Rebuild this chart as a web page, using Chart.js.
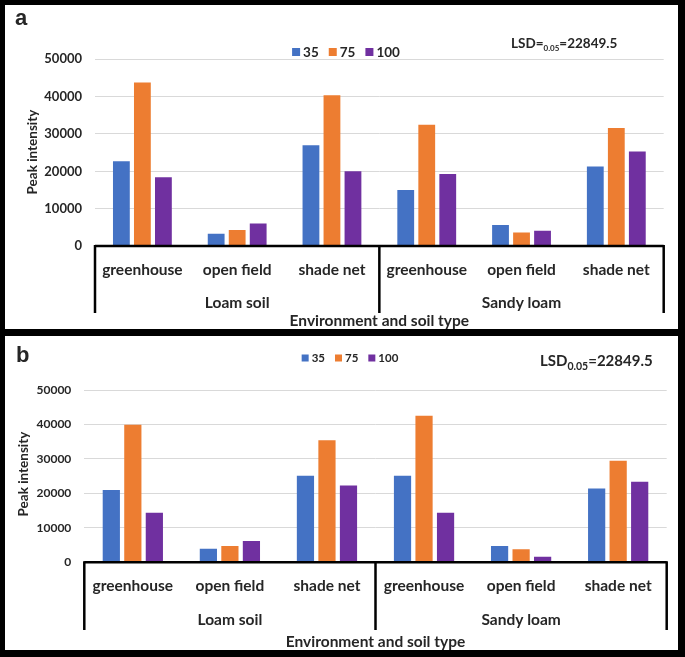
<!DOCTYPE html>
<html>
<head>
<meta charset="utf-8">
<script src="https://cdn.jsdelivr.net/npm/chart.js@4.4.0/dist/chart.umd.min.js"></script>
<style>
  html, body { margin: 0; padding: 0; background: #fff; }
  .panel { position: absolute; left: 0; width: 685px; background: #fff; border: solid #000; box-sizing: border-box; }
  #panelA { top: 0; height: 336px; border-width: 5px 7px 7px 5px; }
  #panelB { top: 336px; height: 321px; border-width: 0 7px 7px 5px; }
  canvas { display: block; }
</style>
</head>
<body>
<div class="panel" id="panelA"><canvas id="chartA" width="673" height="324"></canvas></div>
<div class="panel" id="panelB"><canvas id="chartB" width="673" height="314"></canvas></div>
<script>
// categories
const envLabels = ['greenhouse', 'open field', 'shade net', 'greenhouse', 'open field', 'shade net'];
const soilGroups = ['Loam soil', 'Sandy loam'];
const groupSizes = [3, 3];
const seriesNames = ['35', '75', '100'];
const seriesColors = ['#4472C4', '#ED7D31', '#7030A0'];

// panel a values
const a35  = [22700, 3300, 27000, 15000, 5600, 21300];
const a75  = [43800, 4300, 40400, 32500, 3600, 31600];
const a100 = [18400, 6000, 20000, 19300, 4100, 25300];

// panel b values
const b35  = [21000, 3900, 25100, 25100, 4700, 21400];
const b75  = [39900, 4700, 35400, 42500, 3800, 29500];
const b100 = [14400, 6200, 22300, 14400, 1600, 23400];

const yMax = 50000;
const yStep = 10000;
const lsdValue = '22849.5';

const FONT = 'Lato, "Open Sans", sans-serif';
const TXT = '#262626';

// draws the Excel style multi-level axis, legend, titles and labels
const panelDecor = {
    id: 'panelDecor',
    afterDraw(chart, args, o) {
        const ctx = chart.ctx;
        const area = chart.chartArea;
        const xs = chart.scales.x;
        const yb = area.bottom;
        const catW = area.width / envLabels.length;
        ctx.save();

        // axis line + brackets
        ctx.strokeStyle = '#000';
        ctx.lineWidth = 2.5;
        ctx.beginPath();
        ctx.moveTo(area.left, yb);
        ctx.lineTo(area.right, yb);
        let idx = 0;
        const edges = [xs.getPixelForValue(0) - catW / 2];
        groupSizes.forEach(n => {
            idx += n;
            edges.push(xs.getPixelForValue(idx - 1) + catW / 2);
        });
        edges.forEach(px => {
            ctx.moveTo(px, yb - 1);
            ctx.lineTo(px, yb + o.bracket);
        });
        ctx.stroke();

        ctx.fillStyle = TXT;
        ctx.textAlign = 'center';
        ctx.textBaseline = 'middle';
        ctx.font = 'bold 15.5px ' + FONT;
        envLabels.forEach((lab, i) => {
            ctx.fillText(lab, xs.getPixelForValue(i), yb + o.catY);
        });
        soilGroups.forEach((g, i) => {
            ctx.fillText(g, (edges[i] + edges[i + 1]) / 2, yb + o.groupY);
        });
        ctx.fillText('Environment and soil type', (area.left + area.right) / 2, yb + o.titleY);

        // y title
        ctx.save();
        ctx.translate(o.yTitleX, o.yTitleY);
        ctx.rotate(-Math.PI / 2);
        ctx.font = 'bold 13.5px ' + FONT;
        ctx.fillText('Peak intensity', 0, 0);
        ctx.restore();

        // legend
        ctx.font = 'bold ' + o.legendFont + 'px ' + FONT;
        const parts = chart.data.datasets.map(d => ctx.measureText(d.label).width);
        const gapBox = 3, gapItem = 10;
        let total = 0;
        parts.forEach((w, i) => { total += o.legendBox + gapBox + w + (i < parts.length - 1 ? gapItem : 0); });
        let lx = o.legendX - total / 2;
        ctx.textAlign = 'left';
        chart.data.datasets.forEach((d, i) => {
            ctx.fillStyle = d.backgroundColor;
            ctx.fillRect(lx, o.legendY - o.legendBox / 2, o.legendBox, o.legendBox);
            lx += o.legendBox + gapBox;
            ctx.fillStyle = TXT;
            ctx.fillText(d.label, lx, o.legendY + 0.5);
            lx += parts[i] + gapItem;
        });

        // LSD note with subscript
        ctx.textBaseline = 'alphabetic';
        let sx = o.lsdX;
        ctx.font = 'bold ' + o.lsdFont + 'px ' + FONT;
        ctx.fillText(o.lsdPre, sx, o.lsdY);
        sx += ctx.measureText(o.lsdPre).width;
        ctx.font = 'bold ' + o.subFont + 'px ' + FONT;
        ctx.fillText('0.05', sx, o.lsdY + o.subDrop);
        sx += ctx.measureText('0.05').width;
        ctx.font = 'bold ' + o.lsdFont + 'px ' + FONT;
        ctx.fillText('=' + lsdValue, sx, o.lsdY);

        // panel letter
        ctx.font = 'bold 22px "Liberation Sans", Arial, sans-serif';
        ctx.textBaseline = 'middle';
        ctx.fillText(o.letter, o.letterX, o.letterY);

        ctx.restore();
    }
};

function makeChart(id, v35, v75, v100, geo, deco) {
    const values = [v35, v75, v100];
    return new Chart(document.getElementById(id).getContext('2d'), {
        type: 'bar',
        data: {
            labels: envLabels,
            datasets: seriesNames.map((name, i) => ({
                label: name,
                data: values[i],
                backgroundColor: seriesColors[i],
                categoryPercentage: 0.665,
                barPercentage: 0.8
            }))
        },
        options: {
            responsive: false,
            animation: false,
            layout: { padding: { left: 0, right: geo.right, top: geo.top, bottom: 0 } },
            scales: {
                x: {
                    ticks: { display: false },
                    grid: { display: false },
                    border: { display: false },
                    afterFit: s => { s.height = geo.xHeight; }
                },
                y: {
                    min: 0,
                    max: yMax,
                    ticks: {
                        stepSize: yStep,
                        padding: 13,
                        color: TXT,
                        font: { family: FONT, size: geo.tickFont, weight: 'bold' },
                        callback: v => String(v)
                    },
                    grid: { color: '#d9d9d9', lineWidth: 1, drawTicks: false },
                    border: { display: false },
                    afterFit: s => { s.width = geo.yWidth; }
                }
            },
            plugins: {
                legend: { display: false },
                tooltip: { enabled: false },
                panelDecor: deco
            }
        },
        plugins: [panelDecor]
    });
}

window.onload = function () {
    makeChart('chartA', a35, a75, a100,
        { right: 14.3, top: 54.3, xHeight: 83, yWidth: 90, tickFont: 13 },
        {
            bracket: 67, catY: 24, groupY: 57, titleY: 75,
            yTitleX: 28, yTitleY: 147,
            legendX: 341, legendY: 47, legendFont: 13.5, legendBox: 8,
            lsdX: 506, lsdY: 42.5, lsdFont: 13.5, subFont: 8, subDrop: 3, lsdPre: 'LSD=',
            letter: 'a', letterX: 10, letterY: 14
        });

    makeChart('chartB', b35, b75, b100,
        { right: 11.3, top: 54, xHeight: 87.7, yWidth: 79.3, tickFont: 12 },
        {
            bracket: 67.7, catY: 23.4, groupY: 57.7, titleY: 79.7,
            yTitleX: 18.5, yTitleY: 138,
            legendX: 345, legendY: 22, legendFont: 11.5, legendBox: 7,
            lsdX: 535, lsdY: 29.5, lsdFont: 15, subFont: 10.5, subDrop: 4, lsdPre: 'LSD',
            letter: 'b', letterX: 11, letterY: 20
        });
};
</script>
</body>
</html>
